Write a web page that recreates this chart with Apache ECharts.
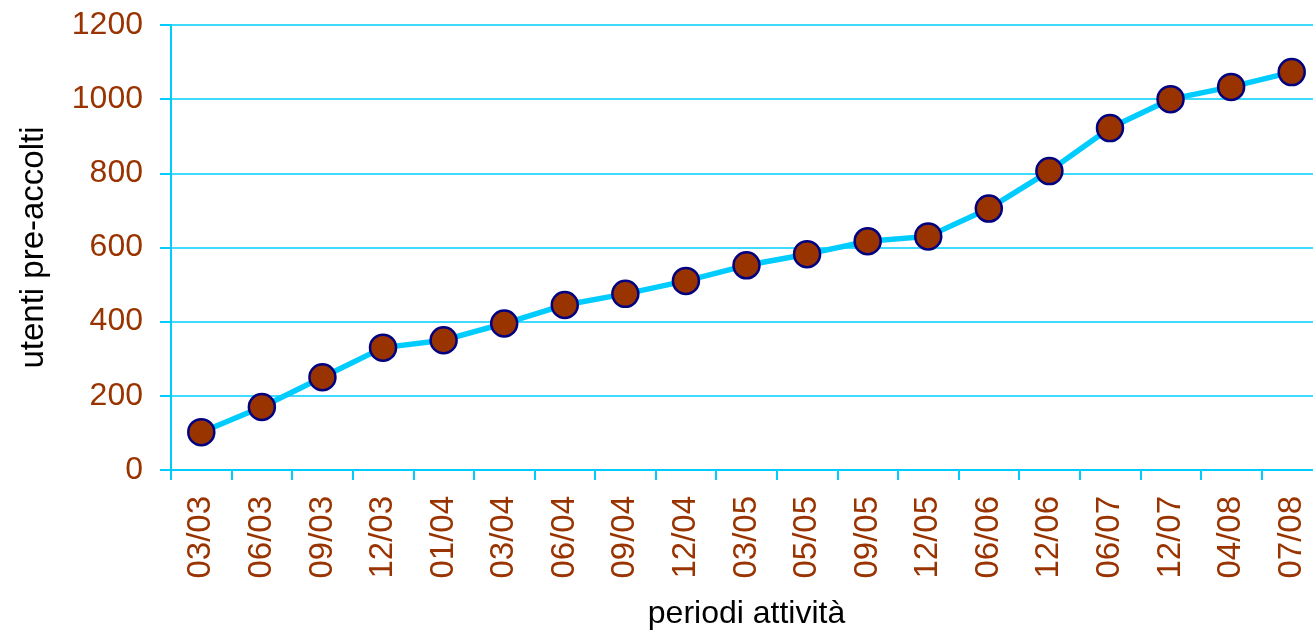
<!DOCTYPE html>
<html>
<head>
<meta charset="utf-8">
<script src="https://cdn.jsdelivr.net/npm/echarts@6/dist/echarts.min.js"></script>
<style>
  html, body { margin: 0; padding: 0; background: #fff; }
  #chart { width: 1313px; height: 631px; }
</style>
</head>
<body>
<div id="chart"></div>
<script>
var periodi = ['03/03', '06/03', '09/03', '12/03', '01/04', '03/04', '06/04', '09/04', '12/04', '03/05',
    '05/05', '09/05', '12/05', '06/06', '12/06', '06/07', '12/07', '04/08', '07/08'];
var utenti = [102, 170, 250, 330, 350, 395, 445, 475, 510, 552, 582, 617, 630, 705, 806, 922, 1000, 1033, 1073];
var yTicks = [0, 200, 400, 600, 800, 1000, 1200];

var myChart = echarts.init(document.getElementById('chart'));

var option = {
    animation: false,
    grid: {
        left: 171,
        width: 1151,
        top: 25,
        bottom: 161,
        outerBoundsMode: 'none'
    },
    xAxis: {
        type: 'category',
        data: periodi,
        boundaryGap: true,
        name: 'periodi attività',
        nameLocation: 'middle',
        nameGap: 128,
        nameTextStyle: { color: '#000', fontSize: 32, fontFamily: 'Liberation Sans' },
        axisLine: { lineStyle: { color: '#00ccff', width: 2 } },
        axisTick: { show: true, length: 10, lineStyle: { color: '#00ccff', width: 2 } },
        axisLabel: {
            rotate: 90,
            margin: 26,
            color: '#993300',
            fontSize: 33,
            fontFamily: 'Liberation Sans',
            interval: 0
        },
        splitLine: { show: false }
    },
    yAxis: {
        type: 'value',
        min: yTicks[0],
        max: yTicks[yTicks.length - 1],
        interval: 200,
        name: 'utenti pre-accolti',
        nameLocation: 'middle',
        nameGap: 121,
        nameRotate: 90,
        nameTextStyle: { color: '#000', fontSize: 33, fontFamily: 'Liberation Sans' },
        axisLine: { show: true, lineStyle: { color: '#00ccff', width: 2 } },
        axisTick: { show: true, length: 11, lineStyle: { color: '#00ccff', width: 2 } },
        axisLabel: {
            margin: 28,
            color: '#993300',
            fontSize: 32,
            fontFamily: 'Liberation Sans',
            formatter: function (v) { return String(v); }
        },
        splitLine: { show: true, lineStyle: { color: '#00ccff', width: 1.5 } }
    },
    series: [
        {
            name: 'utenti',
            type: 'line',
            data: utenti,
            symbol: 'circle',
            symbolSize: 26,
            lineStyle: { color: '#00ccff', width: 5.5 },
            itemStyle: { color: '#993300', borderColor: '#000080', borderWidth: 2.5 },
            z: 3
        }
    ]
};

myChart.setOption(option);
</script>
</body>
</html>
